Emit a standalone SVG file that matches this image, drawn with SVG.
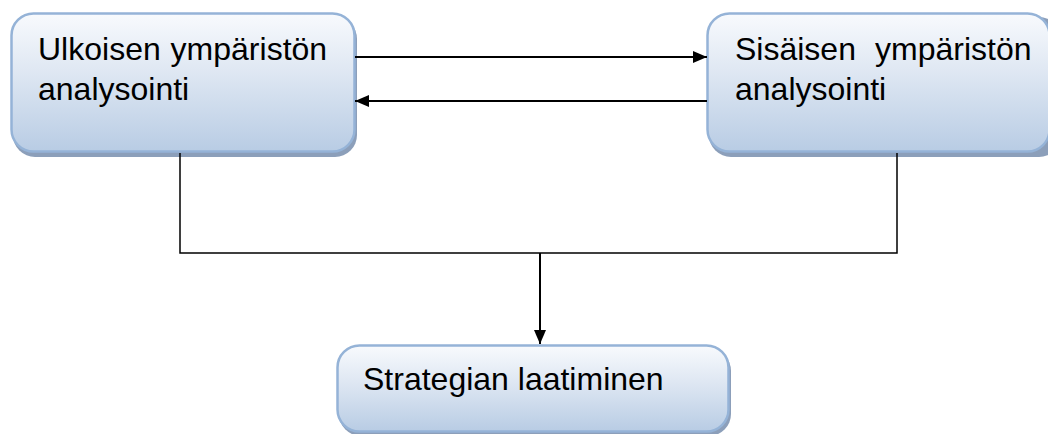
<svg xmlns="http://www.w3.org/2000/svg" width="1048" height="434" viewBox="0 0 1048 434">
<defs>
<linearGradient id="fill" x1="0" y1="0" x2="0" y2="1">
<stop offset="0" stop-color="#f8fafd"/>
<stop offset="0.45" stop-color="#dde6f2"/>
<stop offset="1" stop-color="#b8cce4"/>
</linearGradient>
<marker id="ahd" viewBox="0 0 14 12" refX="14" refY="6" markerWidth="14" markerHeight="12" markerUnits="userSpaceOnUse" orient="auto">
<path d="M0,0 L14,6 L0,12 z" fill="#000"/>
</marker>
</defs>
<style>
.shadow{fill:#8c9fba;}
.box{fill:url(#fill);stroke:#95b3d7;stroke-width:2.5;}
.t{font-family:"Liberation Sans",Arial,sans-serif;font-size:32px;fill:#000;}
.c{fill:none;stroke:#000;stroke-width:2;}
</style>
<g id="node-ulkoinen">
<rect class="shadow" x="13" y="17" width="344" height="140" rx="22"/>
<rect class="box" x="11.5" y="13.5" width="343" height="138" rx="22"/>
<text class="t" x="38" y="60" word-spacing="1">Ulkoisen ympäristön</text>
<text class="t" x="38" y="100">analysointi</text>
</g>
<g id="node-sisainen">
<rect class="shadow" x="709" y="17" width="352" height="140" rx="22"/>
<rect class="box" x="707.5" y="13.5" width="342" height="138" rx="22"/>
<text class="t" x="735" y="60">Sisäisen</text>
<text class="t" x="875" y="60">ympäristön</text>
<text class="t" x="735" y="100">analysointi</text>
</g>
<g id="node-strategia">
<rect class="shadow" x="339" y="349" width="392" height="87" rx="22"/>
<rect class="box" x="337.5" y="345.5" width="391" height="86" rx="22"/>
<text class="t" x="363" y="390">Strategian laatiminen</text>
</g>
<g id="connectors">
<line class="c" x1="355" y1="57" x2="707" y2="57" marker-end="url(#ahd)"/>
<line class="c" x1="707" y1="101" x2="355" y2="101" marker-end="url(#ahd)"/>
<polyline class="c" points="180,153 180,253 897,253 897,153" style="stroke-width:1.5"/>
<line class="c" x1="540" y1="253" x2="540" y2="344" marker-end="url(#ahd)"/>
</g>
</svg>
